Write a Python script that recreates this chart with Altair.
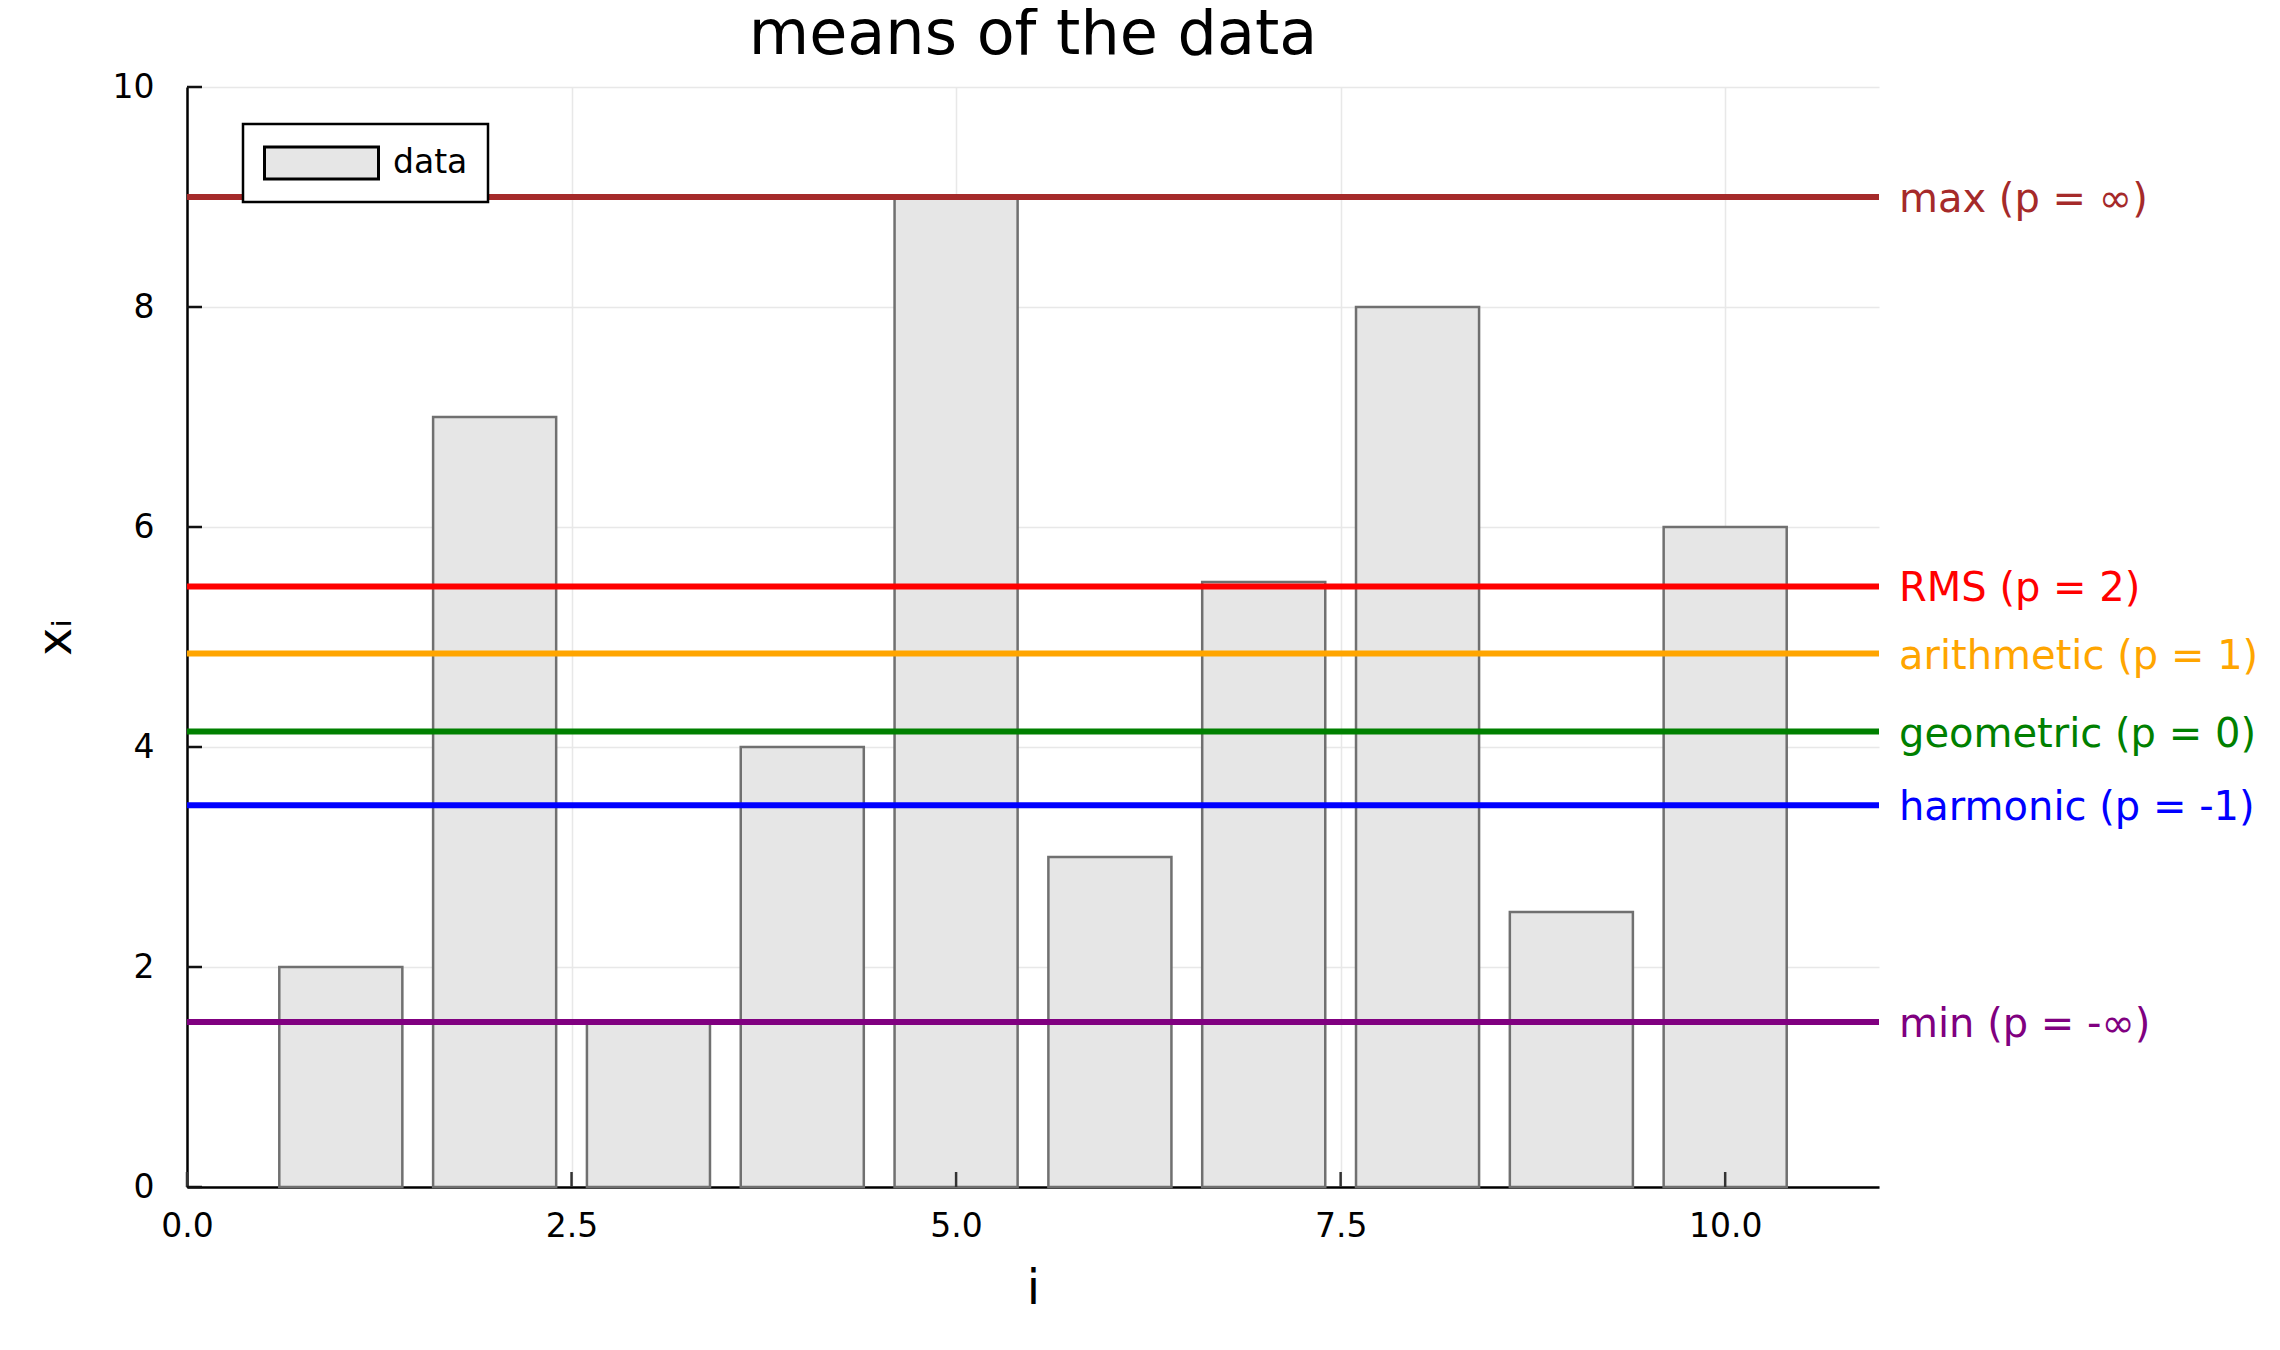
import altair as alt
import pandas as pd

# ---- data ----
idx = [1, 2, 3, 4, 5, 6, 7, 8, 9, 10]
values = [2.0, 7.0, 1.5, 4.0, 9.0, 3.0, 5.5, 8.0, 2.5, 6.0]

mean_names = ["max (p = ∞)", "RMS (p = 2)", "arithmetic (p = 1)",
              "geometric (p = 0)", "harmonic (p = -1)", "min (p = -∞)"]
mean_values = [9.0, 5.46, 4.85, 4.14, 3.47, 1.5]
mean_colors = ["#a52a2a", "#ff0000", "#ffa500", "#008000", "#0000ff", "#800080"]

x_ticks = [0, 2.5, 5, 7.5, 10]
y_ticks = [0, 2, 4, 6, 8, 10]

BAR_W = 0.8
W, H = 1692, 1100
FONT = "DejaVu Sans"

bars_df = pd.DataFrame({"i": idx, "v": values, "series": ["data"] * len(idx)})
means_df = pd.DataFrame({"name": mean_names, "m": mean_values})
xt_df = pd.DataFrame({"t": x_ticks})
yt_df = pd.DataFrame({"t": y_ticks})

xscale = alt.Scale(domain=[0, 11], nice=False, zero=False)
yscale = alt.Scale(domain=[0, 10], nice=False)
cscale = alt.Scale(domain=mean_names, range=mean_colors)

xaxis = alt.Axis(values=x_ticks, format=".1f", title="i", grid=True, ticks=False,
                 labelFlush=False,
                 labelFontSize=33, labelPadding=23, labelFont=FONT, labelColor="black",
                 titleFontSize=48, titleFont=FONT, titleFontWeight="normal",
                 titleX=W / 2, titleY=116, titleBaseline="alphabetic", titleColor="black",
                 domainColor="black", domainWidth=2.5, gridColor="#e8e8e8", gridWidth=1.5)
yaxis = alt.Axis(values=y_ticks, format="d", title="xᵢ", grid=True, ticks=False,
                 labelFlush=False,
                 labelFontSize=33, labelPadding=33, labelFont=FONT, labelColor="black",
                 titleFontSize=48, titleFont=FONT, titleFontWeight="normal",
                 titleX=-117, titleY=H / 2, titleAngle=270, titleAlign="center",
                 titleBaseline="alphabetic", titleColor="black",
                 domainColor="black", domainWidth=2.5, gridColor="#e8e8e8", gridWidth=1.5)

bars = alt.Chart(bars_df).mark_bar(stroke="#707070", strokeWidth=2.5, opacity=1).transform_calculate(
    lo=f"datum.i - {BAR_W / 2}", hi=f"datum.i + {BAR_W / 2}"
).encode(
    x=alt.X("lo:Q", scale=xscale, axis=xaxis),
    x2="hi:Q",
    y=alt.Y("v:Q", scale=yscale, axis=yaxis),
    y2=alt.datum(0),
    fill=alt.Fill("series:N", scale=alt.Scale(domain=["data"], range=["#e6e6e6"]),
                  legend=alt.Legend(title=None, orient="none", legendX=56, legendY=37,
                                    symbolType="M-1,-0.28L1,-0.28L1,0.28L-1,0.28Z",
                                    symbolSize=12996, symbolStrokeColor="black",
                                    symbolStrokeWidth=3, symbolOpacity=1,
                                    labelFontSize=33, labelFont=FONT, labelColor="black",
                                    labelOffset=13, strokeColor="black", fillColor="white",
                                    padding=20, clipHeight=38)),
)

rules = alt.Chart(means_df).mark_rule(strokeWidth=6).encode(
    y=alt.Y("m:Q", scale=yscale),
    color=alt.Color("name:N", scale=cscale, legend=None),
)

labels = alt.Chart(means_df).mark_text(align="left", baseline="middle", fontSize=40,
                                       font=FONT, dy=3).encode(
    x=alt.value(W + 20),
    y=alt.Y("m:Q", scale=yscale),
    text="name:N",
    color=alt.Color("name:N", scale=cscale, legend=None),
)

xt = alt.Chart(xt_df).mark_rule(color="#333333", strokeWidth=2.5).encode(
    x=alt.X("t:Q", scale=xscale), y=alt.value(H), y2=alt.value(H - 15))
yt = alt.Chart(yt_df).mark_rule(color="#111111", strokeWidth=2.5).encode(
    y=alt.Y("t:Q", scale=yscale), x=alt.value(0), x2=alt.value(15))

chart = alt.layer(bars, rules, xt, yt, labels).properties(
    width=W, height=H,
    title=alt.Title("means of the data", fontSize=62, font=FONT, fontWeight="normal",
                    anchor="middle", color="black", offset=4),
    autosize=alt.AutoSizeParams(type="none"),
    padding={"left": 179, "top": 79, "right": 393, "bottom": 150},
).configure_view(stroke=None).configure_legend(strokeWidth=2.5)

chart.save("out.html", embed_options={"renderer": "svg", "actions": False})
